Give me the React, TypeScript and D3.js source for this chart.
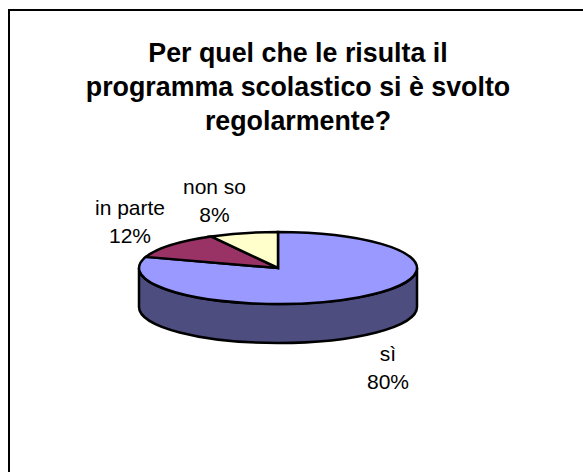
import React from 'react';
import * as d3 from 'd3';

const titleLines = ['Per quel che le risulta il', 'programma scolastico si è svolto', 'regolarmente?'];
const categories = ['sì', 'in parte', 'non so'];
const values = [80, 12, 8];
const topColors = ['#9999ff', '#993366', '#ffffcc'];
const sideColor = '#4d4d80';

const cx = 278;
const cy = 268;
const rx = 139;
const ry = 36;
const depth = 39;
const font = 'Arial, "Liberation Sans", sans-serif';

const pie = d3.pie<number>().sort(null);
const arcs = pie(values);

// unit arc, squashed into the ellipse by the transform on the path
const sliceArc = d3
  .arc<d3.PieArcDatum<number>>()
  .innerRadius(0)
  .outerRadius(1);

const labelPos: [number, number][] = [
  [388, 361],
  [130, 215],
  [214.5, 194],
];

const App = () => {
  const sidePath = `M${cx - rx},${cy} A${rx},${ry} 0 0 0 ${cx + rx},${cy} L${cx + rx},${cy + depth} A${rx},${ry} 0 0 1 ${cx - rx},${cy + depth} Z`;

  return (
    <svg
      width={583}
      height={472}
      style={{ position: 'absolute', left: 0, top: 0, background: '#fff' }}
    >
      <path d="M9,472 V10 H583" fill="none" stroke="#000" strokeWidth={2} />

      {titleLines.map((line, i) => (
        <text
          key={line}
          x={298}
          y={62 + i * 34}
          textAnchor="middle"
          fontFamily={font}
          fontWeight="bold"
          fontSize={26.8}
        >
          {line}
        </text>
      ))}

      <path d={sidePath} fill={sideColor} stroke="#000" strokeWidth={2.5} />

      {arcs.map((d, i) => (
        <path
          key={categories[i]}
          transform={`translate(${cx},${cy}) scale(${rx},${ry})`}
          d={sliceArc(d) as string}
          fill={topColors[i]}
          stroke="#000"
          strokeWidth={2.5}
          vectorEffect="non-scaling-stroke"
        />
      ))}

      {categories.map((c, i) => (
        <text
          key={c}
          textAnchor="middle"
          fontFamily={font}
          fontSize={21}
          fill="#000"
        >
          <tspan x={labelPos[i][0]} y={labelPos[i][1]}>{c}</tspan>
          <tspan x={labelPos[i][0]} y={labelPos[i][1] + 28}>{values[i]}%</tspan>
        </text>
      ))}
    </svg>
  );
};

export default App;
